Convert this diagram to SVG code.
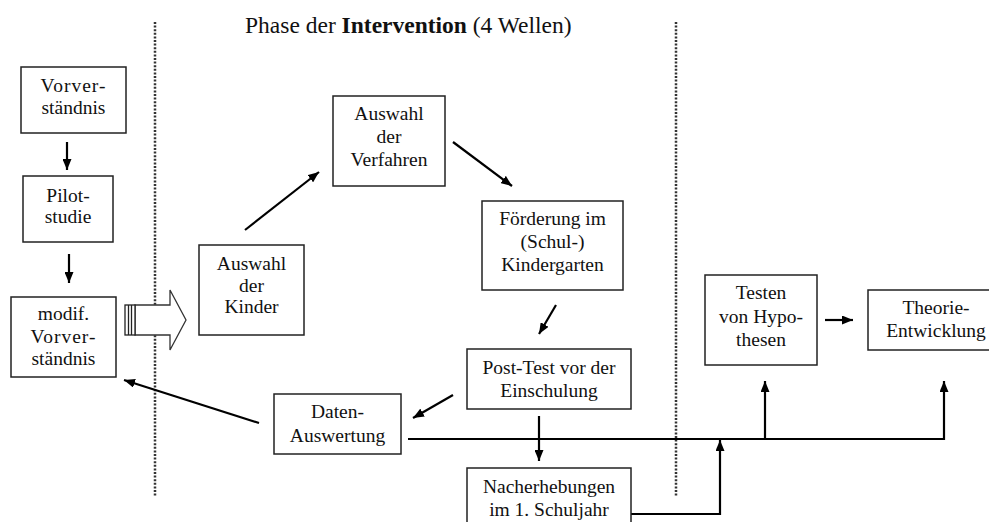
<svg xmlns="http://www.w3.org/2000/svg" width="989" height="522" viewBox="0 0 989 522">
<defs>
<marker id="ah" markerUnits="userSpaceOnUse" markerWidth="11" markerHeight="9" refX="11" refY="4.5" orient="auto">
<path d="M0,0 L11,4.5 L0,9 z" fill="#000"/>
</marker>
<style>
.box{fill:#fff;stroke:#222;stroke-width:1.5}
.t{font-family:Liberation Serif, serif;font-size:19.5px;fill:#111;text-anchor:middle}
.c{fill:none;stroke:#000;stroke-width:2.2}
.a{fill:none;stroke:#000;stroke-width:2.2;marker-end:url(#ah)}
.dot{stroke:#333;stroke-width:2.5;stroke-dasharray:2 1.6}
</style>
</defs>
<rect width="989" height="522" fill="#fff"/>
<g id="separators">
<line class="dot" x1="155" y1="22" x2="155" y2="496"/>
<line class="dot" x1="676" y1="22" x2="676" y2="496"/>
</g>
<text x="245" y="33" font-family="Liberation Serif, serif" font-size="23.5" fill="#111">Phase der <tspan font-weight="bold">Intervention</tspan> (4 Wellen)</text>

<g id="connectors">
<line class="a" x1="67" y1="142" x2="67" y2="170"/>
<line class="a" x1="69" y1="254" x2="69" y2="283"/>
<line class="a" x1="245" y1="230" x2="319" y2="172"/>
<line class="a" x1="453" y1="142" x2="512" y2="186"/>
<line class="a" x1="556" y1="305" x2="539" y2="334"/>
<line class="a" x1="453" y1="395" x2="413" y2="418"/>
<line class="a" x1="539" y1="416" x2="539" y2="461"/>
<line class="a" x1="259" y1="423" x2="124" y2="380"/>
<line class="a" x1="825" y1="320" x2="853" y2="320"/>
<polyline class="c" points="408,439 944,439"/>
<line class="a" x1="765" y1="439" x2="765" y2="381"/>
<line class="a" x1="944" y1="440" x2="944" y2="381"/>
<polyline class="a" points="631,514 720,514 720,440"/>
<g id="block-arrow">
<polygon points="135,305 170,305 170,290 186,320 170,350 170,335 135,335" fill="#fff" stroke="#333" stroke-width="1.3"/>
<rect x="125" y="305" width="10" height="30" fill="#fff" stroke="#222" stroke-width="1.3"/>
<line x1="128.5" y1="305" x2="128.5" y2="335" stroke="#222" stroke-width="1.3"/>
<line x1="131.5" y1="305" x2="131.5" y2="335" stroke="#222" stroke-width="1.3"/>
</g>
</g>

<g font-family="Liberation Serif, serif" font-size="19.5" fill="#111" text-anchor="middle">
<g id="vorverstaendnis">
<rect class="box" x="21" y="67" width="105" height="66"/>
<text x="73.5" y="92" letter-spacing="1">Vorver-</text>
<text x="73.5" y="114">ständnis</text>
</g>
<g id="pilotstudie">
<rect class="box" x="23" y="176" width="90" height="66"/>
<text x="68" y="202">Pilot-</text>
<text x="68" y="223">studie</text>
</g>
<g id="modif">
<rect class="box" x="11" y="297" width="105" height="80"/>
<text x="63.5" y="320">modif.</text>
<text x="63.5" y="343" letter-spacing="1">Vorver-</text>
<text x="63.5" y="365">ständnis</text>
</g>
<g id="kinder">
<rect class="box" x="199" y="245" width="105" height="90"/>
<text x="251.5" y="270">Auswahl</text>
<text x="251.5" y="292">der</text>
<text x="251.5" y="313">Kinder</text>
</g>
<g id="verfahren">
<rect class="box" x="333" y="96" width="112" height="90"/>
<text x="389" y="120">Auswahl</text>
<text x="389" y="143">der</text>
<text x="389" y="166">Verfahren</text>
</g>
<g id="foerderung">
<rect class="box" x="482" y="201" width="141" height="89"/>
<text x="552.5" y="225">Förderung im</text>
<text x="552.5" y="248">(Schul-)</text>
<text x="552.5" y="271">Kindergarten</text>
</g>
<g id="posttest">
<rect class="box" x="467" y="349" width="164" height="60"/>
<text x="549" y="374">Post-Test vor der</text>
<text x="549" y="397">Einschulung</text>
</g>
<g id="nacherhebungen">
<rect class="box" x="467" y="468" width="164" height="60"/>
<text x="549" y="493">Nacherhebungen</text>
<text x="549" y="516">im 1. Schuljahr</text>
</g>
<g id="daten">
<rect class="box" x="274" y="394" width="127" height="60"/>
<text x="337.5" y="418">Daten-</text>
<text x="337.5" y="442">Auswertung</text>
</g>
<g id="testen">
<rect class="box" x="705" y="275" width="112" height="90"/>
<text x="761" y="299">Testen</text>
<text x="761" y="323">von Hypo-</text>
<text x="761" y="346">thesen</text>
</g>
<g id="theorie">
<rect class="box" x="868" y="290" width="125" height="60"/>
<text x="936" y="314">Theorie-</text>
<text x="936" y="337">Entwicklung</text>
</g>
</g>
</svg>
